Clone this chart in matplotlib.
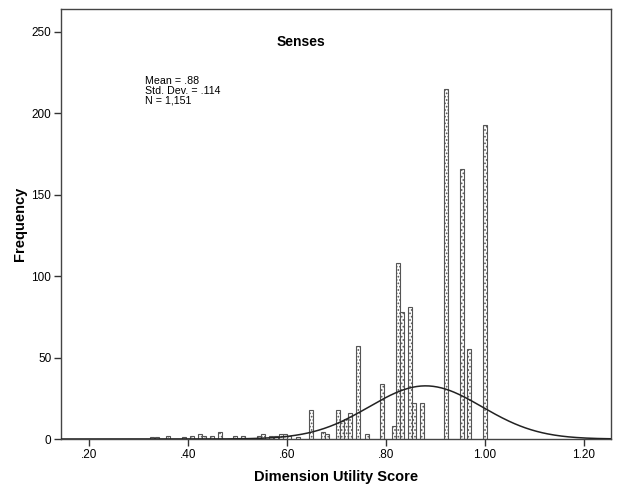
import numpy as np
import matplotlib
matplotlib.use('Agg')
import matplotlib.pyplot as plt

plt.rcParams['font.family'] = ['Liberation Sans', 'DejaVu Sans']
plt.rcParams['hatch.color'] = '#9a9a9a'
plt.rcParams['hatch.linewidth'] = 0.8

# bin centres and counts
bin_centres = [0.328, 0.337, 0.360, 0.392, 0.407, 0.424, 0.432, 0.448, 0.464,
               0.495, 0.512, 0.544, 0.552, 0.568, 0.577, 0.588, 0.596, 0.604,
               0.622, 0.648, 0.672, 0.680, 0.704, 0.712, 0.719, 0.727, 0.744,
               0.761, 0.791, 0.816, 0.825, 0.833, 0.848, 0.857, 0.873, 0.921,
               0.953, 0.967, 1.000]
counts = [1, 1, 2, 1, 2, 3, 2, 2, 4,
          2, 2, 2, 3, 2, 2, 3, 3, 2,
          1, 18, 4, 3, 18, 11, 12, 16, 57,
          3, 34, 8, 108, 78, 81, 22, 22, 215,
          166, 55, 193]

mean = 0.88
sd = 0.114
n = 1151
bin_width = 0.0081

x_ticks = [0.2, 0.4, 0.6, 0.8, 1.0, 1.2]
x_tick_labels = ['.20', '.40', '.60', '.80', '1.00', '1.20']
y_ticks = [0, 50, 100, 150, 200, 250]

fig = plt.figure(figsize=(6.2, 4.88), dpi=100)
ax = fig.add_axes([0.0984, 0.1004, 0.8871, 0.8812])

ax.bar(bin_centres, counts, width=bin_width, facecolor='white',
       edgecolor='#555555', linewidth=0.8, hatch='.....', zorder=2)

# normal curve from the stated mean / sd / N
xs = np.linspace(0.143, 1.255, 400)
ys = n * bin_width / (sd * np.sqrt(2 * np.pi)) * np.exp(-0.5 * ((xs - mean) / sd) ** 2)
ax.plot(xs, ys, color='#222222', linewidth=1.1, zorder=3)

ax.set_xlim(0.1433, 1.2547)
ax.set_ylim(0, 264)
ax.set_xticks(x_ticks)
ax.set_xticklabels(x_tick_labels)
ax.set_yticks(y_ticks)
ax.tick_params(direction='out', length=5, width=1, labelsize=8.5, color='#333333', pad=2)
for s in ax.spines.values():
    s.set_color('#444444')
    s.set_linewidth(1)

ax.set_xlabel('Dimension Utility Score', fontsize=10.5, fontweight='bold', labelpad=7)
ax.set_ylabel('Frequency', fontsize=10.5, fontweight='bold', labelpad=3)

ax.text(0.436, 0.923, 'Senses', transform=ax.transAxes, ha='center', va='center',
        fontsize=10, fontweight='bold')
ax.text(0.152, 0.81, 'Mean = .88\nStd. Dev. = .114\nN = 1,151', transform=ax.transAxes,
        ha='left', va='center', fontsize=7.7, linespacing=1.0)

fig.savefig('out.png', dpi=100)
